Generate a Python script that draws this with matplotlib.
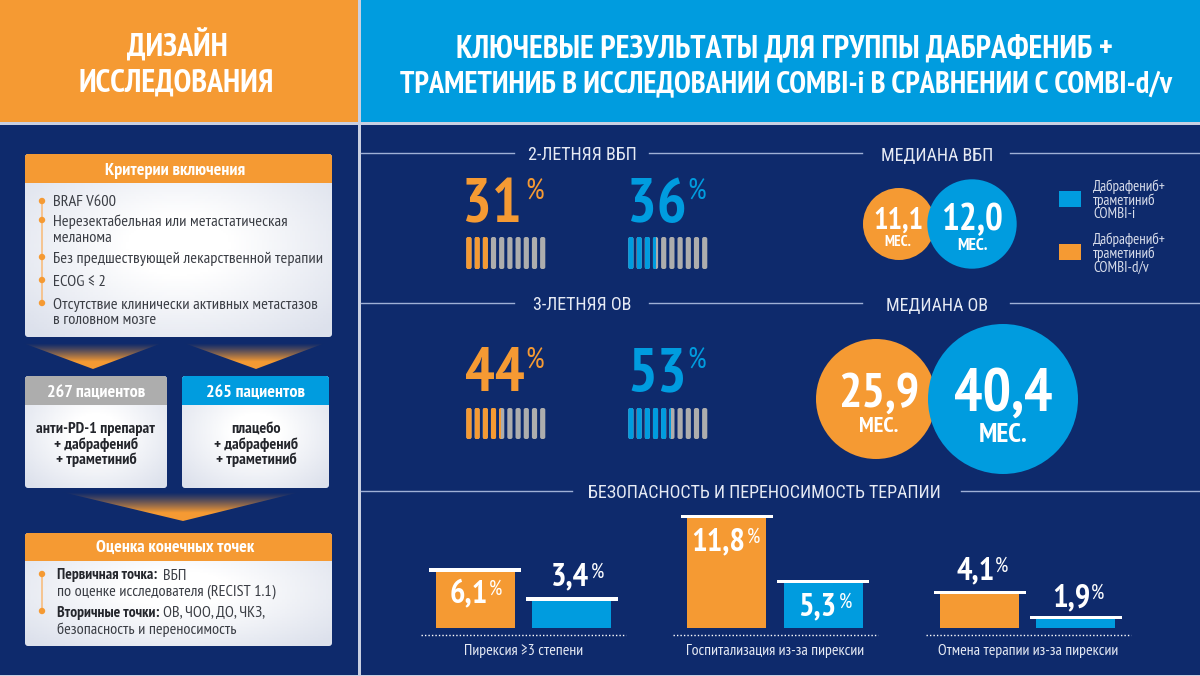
import numpy as np
from matplotlib import pyplot as plt
from matplotlib.patches import Circle, FancyBboxPatch, Polygon, Rectangle

plt.rcParams['font.family'] = ['PT Sans Narrow', 'Roboto Condensed', 'Roboto', 'DejaVu Sans']
HEAD_FONT = ['Roboto Condensed', 'PT Sans Narrow', 'Roboto', 'DejaVu Sans']

NAVY = '#0e2a6c'
ORANGE = '#f59a33'
BLUE = '#009cdf'
GRAY = '#adadad'
INK = '#3a3d44'
DARK = '#24262c'
PALE = '#e6eaf4'

# data
title_left = ['ДИЗАЙН', 'ИССЛЕДОВАНИЯ']
title_right = ['КЛЮЧЕВЫЕ РЕЗУЛЬТАТЫ ДЛЯ ГРУППЫ ДАБРАФЕНИБ +',
               'ТРАМЕТИНИБ В ИССЛЕДОВАНИИ COMBI-i В СРАВНЕНИИ С COMBI-d/v']
pfs_2y = [31, 36]
os_3y = [44, 53]
median_pfs = ['11,1', '12,0']
median_os = ['25,9', '40,4']
safety_cats = ['Пирексия ≥3 степени', 'Госпитализация из-за пирексии', 'Отмена терапии из-за пирексии']
safety_dv = [6.2, 11.8, 3.9]
safety_i = [3.2, 5.0, 1.3]
safety_dv_labels = ['6,1', '11,8', '4,1']
safety_i_labels = ['3,4', '5,3', '1,9']
criteria = [['BRAF V600'],
            ['Нерезектабельная или метастатическая', 'меланома'],
            ['Без предшествующей лекарственной терапии'],
            ['ECOG ≤ 2'],
            ['Отсутствие клинически активных метастазов', 'в головном мозге']]

fig = plt.figure(figsize=(12, 6.76), dpi=100, facecolor='#c9d0e2')
ax = fig.add_axes([0, 0, 1, 1])
ax.set_axis_off()


def rect(x0, y0, x1, y1, color, z=1):
    ax.add_patch(Rectangle((x0, y0), x1 - x0, y1 - y0, fc=color, ec='none', zorder=z))


def label(x, y, s, size, color='white', ha='center', weight='normal', z=6, family=None):
    return ax.text(x, y, s, fontsize=size, color=color, ha=ha, va='center_baseline', fontweight=weight, zorder=z,
                   family=family)


def panel(x0, y0, x1, y1, head_y, head_color=ORANGE):
    # rounded card, soft white centre fading to pale edges
    box = FancyBboxPatch((x0 + 2, y0 + 2), x1 - x0 - 4, y1 - y0 - 4, boxstyle='round,pad=2,rounding_size=3',
                         fc='none', ec='none', zorder=2)
    ax.add_patch(box)
    yy, xx = np.mgrid[-1:1:80j, -1:1:120j]
    glow = np.clip(np.sqrt(xx ** 2 + yy ** 2) - 0.35, 0, 1) / 0.9
    base = np.array([255, 255, 255]) + (np.array([224, 228, 238]) - 255) * glow[..., None]
    im = ax.imshow(base.astype(np.uint8), extent=(x0, x1, y1, y0), aspect='auto', zorder=2)
    im.set_clip_path(box)
    head = Rectangle((x0, y0), x1 - x0, head_y - y0, fc=head_color, ec='none', zorder=3)
    ax.add_patch(head)
    head.set_clip_path(box)


def arrow(x0, x1, tip, y0, y1):
    # triangle fading from navy into orange at the tip
    tri = Polygon([(x0, y0), (x1, y0), (tip, y1)], fc='none', ec='none', zorder=2)
    ax.add_patch(tri)
    t = np.linspace(0, 1, 64)[:, None, None] ** 1.2
    navy = np.array([14, 42, 108])
    orange = np.array([245, 154, 51])
    grad = (navy + (orange - navy) * np.clip(t * 1.5, 0, 1)).astype(np.uint8)
    im = ax.imshow(grad, extent=(x0, x1, y1, y0), aspect='auto', zorder=2)
    im.set_clip_path(tri)


def stripes(x0, y0, y1, value, color):
    # ten rounded sticks, filled up to the value
    for i in range(10):
        x = x0 + i * 8.2
        stick = FancyBboxPatch((x + 1.5, y0 + 1.5), 2.2, y1 - y0 - 3, boxstyle='round,pad=1.5,rounding_size=2',
                               fc=GRAY, ec='none', zorder=3)
        ax.add_patch(stick)
        frac = min(max(value / 10 - i, 0), 1)
        if frac > 0:
            fill = Rectangle((x, y0), 5.2 * frac, y1 - y0, fc=color, ec='none', zorder=4)
            ax.add_patch(fill)
            fill.set_clip_path(stick)


def big_pct(x, y, value, color, pct_x):
    label(x, y, str(value), 45, color=color, weight='bold')
    label(pct_x, y - 12, '%', 21, color=color)


def median(cx, cy, r, value, color, size, m_size, text_x, val_y, m_y, z):
    ax.add_patch(Circle((cx, cy), r, fc=color, ec='none', zorder=z))
    label(text_x, val_y, value, size, weight='bold', z=z + 1)
    label(text_x, m_y, 'МЕС.', m_size, weight='bold', z=z + 1)


# backgrounds
rect(0, 0, 357.5, 122, ORANGE)
rect(360.5, 0, 1200, 122, BLUE)
rect(0, 124.5, 357.5, 675, NAVY)
rect(360.5, 124.5, 1200, 675, NAVY)

label(177, 42, title_left[0], 23, weight='bold')
label(176, 80, title_left[1], 23, weight='bold')
label(785, 46, title_right[0], 23, weight='bold')
label(786, 81, title_right[1], 21.9, weight='bold')

# left column
panel(25, 154, 332, 337, 183)
label(175, 169, 'Критерии включения', 13, weight='bold')
ax.plot([42, 42], [201, 303], color='#f8bd7f', lw=1.2, zorder=4)
for lines, y in zip(criteria, [201, 220, 257, 280, 303]):
    ax.add_patch(Circle((42, y), 3.2, fc=ORANGE, ec='none', zorder=5))
    for j, line in enumerate(lines):
        label(53, y + j * 16, line, 11.85, color=INK, ha='left')

arrow(23, 162, 93, 343, 369)
arrow(184, 325, 256, 343, 369)

panel(25, 376, 167, 488, 405, GRAY)
panel(182, 376, 329, 488, 405, BLUE)
label(96, 391, '267 пациентов', 13, weight='bold')
label(256, 391, '265 пациентов', 13, weight='bold')
for y, a, b in zip([427, 443, 458], ['анти-PD-1 препарат', '+ дабрафениб', '+ траметиниб'],
                   ['плацебо', '+ дабрафениб', '+ траметиниб']):
    label(96, y, a, 11.6, color=DARK, weight='bold')
    label(256, y, b, 11.6, color=DARK, weight='bold')

arrow(62, 300, 183, 492, 521)

panel(25, 533, 332, 646, 561)
label(175, 546, 'Оценка конечных точек', 13, weight='bold')
ax.plot([42, 42], [574, 611], color='#f8bd7f', lw=1.2, zorder=4)
for y in [574, 611]:
    ax.add_patch(Circle((42, y), 3.2, fc=ORANGE, ec='none', zorder=5))
label(57, 574, 'Первичная точка:', 11.2, color=DARK, ha='left', weight='bold')
label(163, 574, 'ВБП', 11.7, color=INK, ha='left')
label(57, 590, 'по оценке исследователя (RECIST 1.1)', 11.7, color=INK, ha='left')
label(57, 611, 'Вторичные точки:', 11.2, color=DARK, ha='left', weight='bold')
label(163, 611, 'ОВ, ЧОО, ДО, ЧКЗ,', 11.7, color=INK, ha='left')
label(57, 628, 'безопасность и переносимость', 11.7, color=INK, ha='left')

# section heads
for y, x0, x1 in [(153, 361, 514), (153, 649, 862), (153, 1010, 1200),
                  (303, 361, 514), (303, 649, 862), (303, 1010, 1200),
                  (491, 361, 572), (491, 961, 1200)]:
    ax.plot([x0, x1], [y, y], color='#9fb0d6', lw=1, zorder=3)
label(582, 153.5, '2-ЛЕТНЯЯ ВБП', 13, color=PALE, family=HEAD_FONT)
label(937, 153.5, 'МЕДИАНА ВБП', 13, color=PALE, family=HEAD_FONT)
label(582, 303.5, '3-ЛЕТНЯЯ ОВ', 13, color=PALE, family=HEAD_FONT)
label(937, 303.5, 'МЕДИАНА ОВ', 13, color=PALE, family=HEAD_FONT)
label(764, 491.5, 'БЕЗОПАСНОСТЬ И ПЕРЕНОСИМОСТЬ ТЕРАПИИ', 13, color=PALE, family=HEAD_FONT)

# percent blocks
big_pct(492, 200, pfs_2y[0], ORANGE, 535)
big_pct(657, 200, pfs_2y[1], BLUE, 697)
big_pct(495, 369, os_3y[0], ORANGE, 535)
big_pct(657, 369, os_3y[1], BLUE, 697)
stripes(466.3, 237, 269, pfs_2y[0], ORANGE)
stripes(628.3, 237, 269, pfs_2y[1], BLUE)
stripes(466.3, 408, 439, os_3y[0], ORANGE)
stripes(628.3, 408, 439, os_3y[1], BLUE)

# median circles
median(899, 224, 36, median_pfs[0], ORANGE, 22, 11, 898, 218, 240, 3)
median(972, 224, 44.7, median_pfs[1], BLUE, 27, 12.5, 972, 217, 244, 4)
median(876, 399, 60, median_os[0], ORANGE, 35.5, 16, 879, 390, 425, 3)
median(1003, 399, 75, median_os[1], BLUE, 43, 20, 1003, 389, 432, 4)

# legend
rect(1059, 191, 1081, 207, BLUE)
rect(1059, 244, 1081, 260, ORANGE)
for y, s in zip([185, 199, 213, 238, 252, 266],
                ['Дабрафениб+', 'траметиниб', 'COMBI-i', 'Дабрафениб+', 'траметиниб', 'COMBI-d/v']):
    label(1093, y, s, 10.8, color='#d7dcea', ha='left')

# safety bars, 9.6 px per percent
base_y = 628
scale = 9.6
left_x = [435.5, 687, 940]
right_x = [532, 783.5, 1036]
for i, cat in enumerate(safety_cats):
    for x, v, color in ((left_x[i], safety_dv[i], ORANGE), (right_x[i], safety_i[i], BLUE)):
        top = base_y - v * scale
        ax.bar(x + 39.5, v * scale, width=79, bottom=top, color=color, zorder=3)
        ax.bar(x + 39.5, 3.4, width=92, bottom=top, color='white', zorder=4)
    x0 = left_x[i] - 14.5
    ax.plot([x0, x0 + 205], [635, 635], color='white', lw=1, ls=(0, (1, 1.5)), zorder=3)
    label(x0 + 103, 649, cat, 11.4, color=PALE)

val_x = [[468.5, 718, 976], [570, 817, 1071]]
val_y = [[591, 539, 568], [574, 604, 595]]
pct_x = [[496, 754, 1002], [597, 845, 1097]]
for side, labels in enumerate((safety_dv_labels, safety_i_labels)):
    for i, s in enumerate(labels):
        label(val_x[side][i], val_y[side][i], s, 23.5, weight='bold')
        label(pct_x[side][i], val_y[side][i] - 4, '%', 15)

ax.set_xlim(0, 1200)
ax.set_ylim(676, 0)
fig.savefig('out.png', dpi=100, facecolor=fig.get_facecolor())
